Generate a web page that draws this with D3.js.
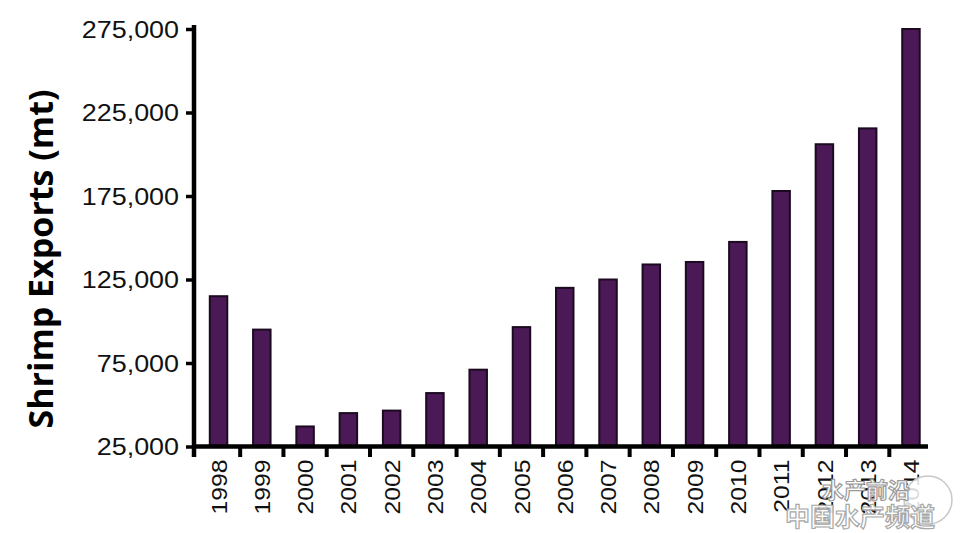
<!DOCTYPE html>
<html>
<head>
<meta charset="utf-8">
<script src="https://cdn.jsdelivr.net/npm/d3@7"></script>
<style>
  html, body { margin: 0; padding: 0; background: #fff; }
  svg { display: block; }
</style>
</head>
<body>
<svg id="chart" width="960" height="533"></svg>
<script>
const years = ["1998","1999","2000","2001","2002","2003","2004","2005","2006","2007","2008","2009","2010","2011","2012","2013","2014"];
const exports = [115000, 95000, 37000, 45000, 46500, 57000, 71000, 96500, 120000, 125000, 134000, 135500, 147500, 178000, 206000, 215500, 275000];
const yTicks = [25000, 75000, 125000, 175000, 225000, 275000];
const yTitle = "Shrimp Exports (mt)";
const watermark1 = "水产前沿";
const watermark2 = "中国水产频道";

const svg = d3.select("#chart");
const axisX = 194, baseY = 446.5;

const x = d3.scaleBand().domain(years).range([196.9, 932.6]).paddingInner(0.596).paddingOuter(0.298);
const y = d3.scaleLinear().domain([25000, 275000]).range([baseY, 29]);

// bars
svg.append("g").selectAll("rect").data(years).join("rect")
  .attr("x", d => x(d))
  .attr("width", x.bandwidth())
  .attr("y", (d, i) => y(exports[i]))
  .attr("height", (d, i) => baseY - y(exports[i]))
  .attr("fill", "#4b1955")
  .attr("stroke", "#1c0a20")
  .attr("stroke-width", 2);

// y axis
const yAxis = d3.axisLeft(y).tickValues(yTicks).tickSize(8).tickPadding(0)
  .tickFormat(d3.format(","));
const gy = svg.append("g").attr("transform", `translate(${axisX},0)`).call(yAxis);
gy.select(".domain").remove();
gy.selectAll(".tick line").attr("stroke", "#000").attr("stroke-width", 3.5);
gy.selectAll(".tick text")
  .attr("font-family", "'Liberation Sans', Arial, sans-serif")
  .attr("font-size", 23)
  .attr("fill", "#111")
  .attr("x", -15 / 1.17)
  .attr("dy", "0.36em")
  .attr("transform", "scale(1.17,1)");
svg.append("line").attr("x1", axisX).attr("x2", axisX).attr("y1", 25).attr("y2", 457)
  .attr("stroke", "#000").attr("stroke-width", 4.5);

// x axis
svg.append("line").attr("x1", axisX - 2).attr("x2", 928).attr("y1", baseY).attr("y2", baseY)
  .attr("stroke", "#000").attr("stroke-width", 4.5);
const gx = svg.append("g").attr("transform", `translate(0,${baseY})`)
  .call(d3.axisBottom(x).tickSize(0).tickPadding(0));
gx.select(".domain").remove();
gx.selectAll(".tick text")
  .attr("font-family", "'Liberation Sans', Arial, sans-serif")
  .attr("font-size", 22.5)
  .attr("fill", "#111")
  .attr("text-anchor", "end")
  .attr("transform", "rotate(-90) scale(1.1,1)")
  .attr("x", -13 / 1.1)
  .attr("y", 0)
  .attr("dy", "0.36em");
// boundary ticks between bars
svg.append("g").selectAll("line").data(years.slice(1)).join("line")
  .attr("x1", d => x(d) + x.bandwidth() / 2 - x.step() / 2)
  .attr("x2", d => x(d) + x.bandwidth() / 2 - x.step() / 2)
  .attr("y1", baseY).attr("y2", 457)
  .attr("stroke", "#000").attr("stroke-width", 4);

// y title
svg.append("text")
  .attr("transform", `translate(53,259) rotate(-90)`)
  .attr("text-anchor", "middle")
  .attr("font-family", "'Open Sans', sans-serif")
  .attr("font-weight", 700)
  .attr("font-size", 34)
  .attr("fill", "#000")
  .text(yTitle);

// watermark
const wm = svg.append("g");
wm.append("circle").attr("cx", 928).attr("cy", 500).attr("r", 24)
  .attr("fill", "#fff").attr("fill-opacity", 0.85).attr("stroke", "#c8c8c8").attr("stroke-width", 1.5);
wm.append("text").attr("x", 822).attr("y", 498)
  .attr("font-family", "'Noto Sans CJK SC', sans-serif").attr("font-size", 22).attr("font-weight", 700)
  .attr("fill", "#fff").attr("stroke", "#9a9a9a").attr("stroke-width", 1.2)
  .text(watermark1);
wm.append("text").attr("x", 785).attr("y", 526)
  .attr("font-family", "'Noto Sans CJK SC', sans-serif").attr("font-size", 25).attr("font-weight", 700)
  .attr("fill", "#fff").attr("fill-opacity", 0.9).attr("stroke", "#a8a8a8").attr("stroke-width", 1.2)
  .text(watermark2);
</script>
</body>
</html>
